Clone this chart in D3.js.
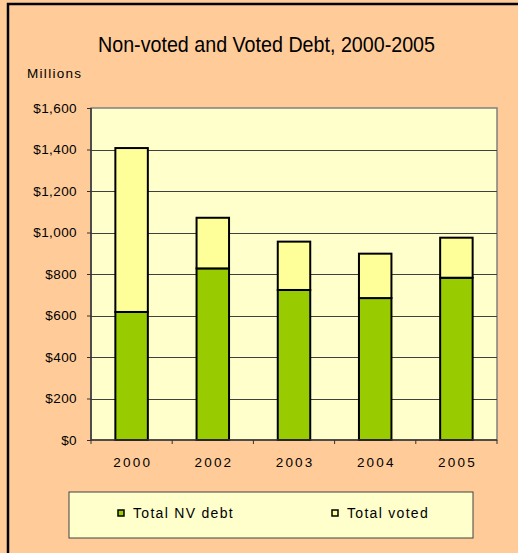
<!DOCTYPE html>
<html>
  <head>
    <meta charset="utf-8">
    <title>Non-voted and Voted Debt, 2000-2005</title>
    <style type="text/css">
      body {
        margin: 0;
        font-family: "Liberation Sans", Arial, sans-serif;
      }
      .axis path {
        display: none;
      }
      .axis text {
        fill: #000;
      }
      .y.axis text {
        font-size: 13.5px;
        letter-spacing: 0.4px;
      }
      .x.axis text {
        font-size: 13.5px;
        letter-spacing: 2.2px;
      }
      .grid line {
        stroke: #404040;
        stroke-width: 1px;
      }
      .legend text {
        font-size: 14px;
        letter-spacing: 1.3px;
      }
    </style>
  </head>
  <body>
    <script src="https://d3js.org/d3.v7.min.js"></script>
    <script>
    // data (millions of dollars)
    var years = ["2000", "2002", "2003", "2004", "2005"];
    var nvDebt = [617, 827, 723, 684, 782];
    var voted = [790, 244, 233, 214, 193];
    var seriesNames = ["Total NV debt", "Total voted"];
    var seriesColors = ["#99cc00", "#ffff99"];
    var yTicks = [0, 200, 400, 600, 800, 1000, 1200, 1400, 1600];

    var W = 518, H = 553;
    var margin = {top: 108, right: 21, bottom: 113, left: 91};
    var width = W - margin.left - margin.right,
        height = H - margin.top - margin.bottom;

    var table = years.map(function(y, i) {
      return {year: y, nv: nvDebt[i], voted: voted[i]};
    });
    var stacked = d3.stack().keys(["nv", "voted"])(table);

    var x = d3.scaleBand()
        .domain(years)
        .range([0, width])
        .paddingInner(0.6)
        .paddingOuter(0.3);

    var y = d3.scaleLinear()
        .domain([0, 1600])
        .range([height, 0]);

    var svg = d3.select("body").append("svg")
        .attr("width", W)
        .attr("height", H);

    // chart area background and the cropped black frame
    svg.append("rect")
        .attr("width", W).attr("height", H)
        .attr("fill", "#ffcc99");
    svg.append("path")
        .attr("d", "M8," + H + "V4H" + W)
        .attr("fill", "none")
        .attr("stroke", "#000")
        .attr("stroke-width", 2.5);

    svg.append("text")
        .attr("x", 98)
        .attr("y", 52)
        .attr("textLength", 337)
        .attr("lengthAdjust", "spacingAndGlyphs")
        .style("font-size", "22.5px")
        .text("Non-voted and Voted Debt, 2000-2005");

    svg.append("text")
        .attr("x", 27)
        .attr("y", 78)
        .style("font-size", "13.5px")
        .style("letter-spacing", "1.3px")
        .text("Millions");

    var g = svg.append("g")
        .attr("transform", "translate(" + margin.left + "," + margin.top + ")");

    g.append("rect")
        .attr("width", width)
        .attr("height", height)
        .attr("fill", "#ffffcc")
        .attr("stroke", "#808080")
        .attr("stroke-width", 1.5);

    g.append("g")
        .attr("class", "grid")
        .selectAll("line")
        .data(yTicks.slice(1, -1))
        .enter().append("line")
        .attr("x1", 0).attr("x2", width)
        .attr("y1", function(d) { return Math.round(y(d)) + 0.5; })
        .attr("y2", function(d) { return Math.round(y(d)) + 0.5; });

    var layer = g.selectAll("g.layer")
        .data(stacked)
        .enter().append("g")
        .attr("class", "layer")
        .attr("fill", function(d, i) { return seriesColors[i]; });

    layer.selectAll("rect")
        .data(function(d) { return d; })
        .enter().append("rect")
        .attr("x", function(d) { return x(d.data.year); })
        .attr("width", x.bandwidth())
        .attr("y", function(d) { return y(d[1]); })
        .attr("height", function(d) { return y(d[0]) - y(d[1]); })
        .attr("stroke", "#000")
        .attr("stroke-width", 2);

    var yAxis = d3.axisLeft(y)
        .tickValues(yTicks)
        .tickSize(4)
        .tickPadding(10)
        .tickFormat(function(d) { return "$" + d3.format(",")(d); });

    g.append("g")
        .attr("class", "y axis")
        .call(yAxis)
        .call(function(s) { s.selectAll("line").attr("stroke", "#333"); });

    g.append("line")
        .attr("x1", 0).attr("x2", 0)
        .attr("y1", 0).attr("y2", height)
        .attr("stroke", "#333")
        .attr("stroke-width", 1.5);

    var xAxis = d3.axisBottom(x)
        .tickSize(0)
        .tickPadding(17);

    g.append("g")
        .attr("class", "x axis")
        .attr("transform", "translate(0," + height + ")")
        .call(xAxis)
        .call(function(s) { s.selectAll("text").attr("dx", "1.1px"); });

    // category separators on the x axis
    var sep = g.append("g").attr("transform", "translate(0," + height + ")");
    sep.append("line")
        .attr("x1", 0).attr("x2", width)
        .attr("stroke", "#333")
        .attr("stroke-width", 1.5);
    sep.selectAll("line.sep")
        .data(d3.range(years.length + 1))
        .enter().append("line")
        .attr("class", "sep")
        .attr("x1", function(i) { return i * x.step(); })
        .attr("x2", function(i) { return i * x.step(); })
        .attr("y1", 0).attr("y2", 4)
        .attr("stroke", "#333");

    // legend
    var legend = svg.append("g")
        .attr("class", "legend")
        .attr("transform", "translate(69,492)");

    legend.append("rect")
        .attr("width", 404)
        .attr("height", 46)
        .attr("fill", "#ffffcc")
        .attr("stroke", "#404040")
        .attr("stroke-width", 1);

    var item = legend.selectAll("g.item")
        .data(seriesNames)
        .enter().append("g")
        .attr("class", "item")
        .attr("transform", function(d, i) { return "translate(" + (49 + i * 214) + ",18)"; });

    item.append("rect")
        .attr("width", 6)
        .attr("height", 6)
        .attr("fill", function(d, i) { return seriesColors[i]; })
        .attr("stroke", "#000")
        .attr("stroke-width", 1.5);

    item.append("text")
        .attr("x", 15)
        .attr("y", 7.5)
        .text(function(d) { return d; });
    </script>
  </body>
</html>
